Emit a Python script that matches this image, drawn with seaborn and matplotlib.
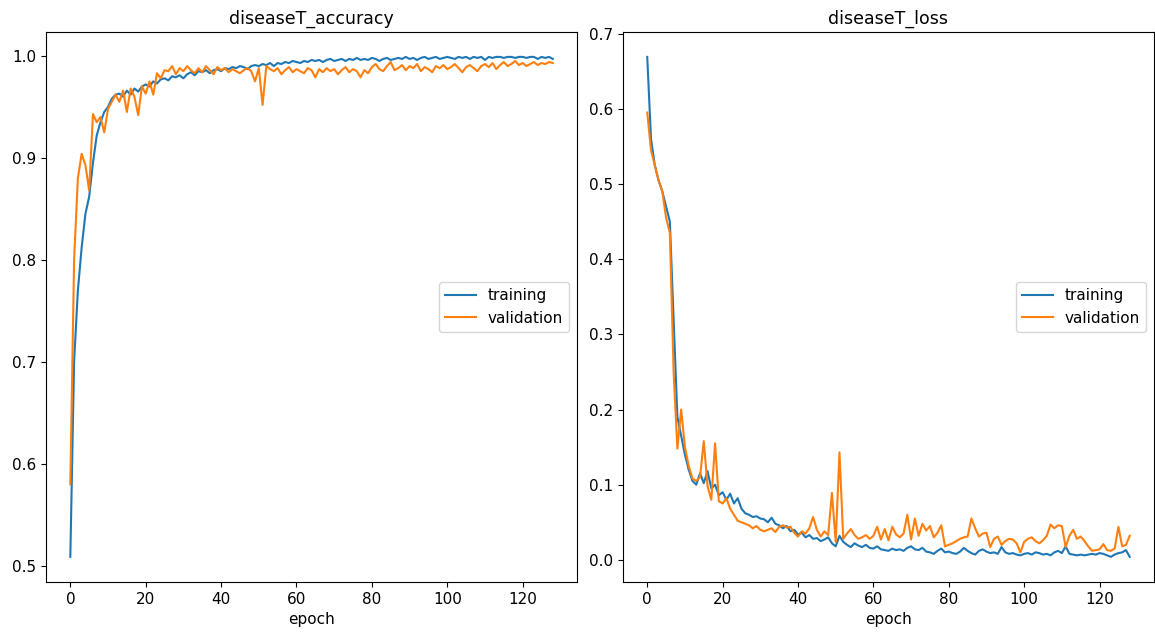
import pandas as pd
import matplotlib
matplotlib.use('Agg')
import matplotlib.pyplot as plt
import seaborn as sns

epochs = list(range(129))

train_acc = [0.509, 0.700, 0.770, 0.812, 0.845, 0.862, 0.895, 0.922, 0.935, 0.945,
             0.950, 0.958, 0.962, 0.963, 0.960, 0.966, 0.962, 0.968, 0.965, 0.970,
             0.972, 0.970, 0.975, 0.973, 0.977, 0.978, 0.976, 0.980, 0.979, 0.981,
             0.978, 0.982, 0.984, 0.981, 0.985, 0.984, 0.986, 0.983, 0.986, 0.987,
             0.985, 0.988, 0.987, 0.989, 0.988, 0.990, 0.989, 0.987, 0.990, 0.991,
             0.990, 0.992, 0.991, 0.993, 0.990, 0.993, 0.992, 0.994, 0.993, 0.995,
             0.994, 0.993, 0.995, 0.994, 0.996, 0.995, 0.996, 0.994, 0.996, 0.997,
             0.995, 0.996, 0.997, 0.995, 0.997, 0.996, 0.998, 0.996, 0.997, 0.996,
             0.998, 0.997, 0.995, 0.997, 0.998, 0.996, 0.997, 0.998, 0.997, 0.999,
             0.997, 0.998, 0.996, 0.998, 0.999, 0.997, 0.998, 0.999, 0.997, 0.998,
             0.999, 0.998, 0.997, 0.999, 0.998, 0.999, 0.997, 0.999, 0.998, 0.999,
             0.996, 0.999, 0.998, 0.999, 0.999, 0.998, 0.999, 0.999, 0.998, 0.999,
             0.999, 0.998, 0.999, 0.999, 0.997, 0.999, 0.998, 0.999, 0.997]

val_acc = [0.580, 0.800, 0.880, 0.904, 0.893, 0.868, 0.943, 0.935, 0.940, 0.925,
           0.948, 0.955, 0.962, 0.955, 0.966, 0.945, 0.968, 0.960, 0.942, 0.970,
           0.963, 0.975, 0.962, 0.983, 0.978, 0.986, 0.985, 0.990, 0.982, 0.988,
           0.985, 0.990, 0.986, 0.983, 0.988, 0.984, 0.990, 0.986, 0.982, 0.989,
           0.986, 0.988, 0.984, 0.987, 0.985, 0.983, 0.986, 0.988, 0.985, 0.975,
           0.988, 0.952, 0.990, 0.987, 0.985, 0.988, 0.982, 0.986, 0.989, 0.984,
           0.987, 0.985, 0.983, 0.988, 0.986, 0.979, 0.987, 0.984, 0.988, 0.985,
           0.987, 0.982, 0.986, 0.989, 0.984, 0.987, 0.985, 0.979, 0.986, 0.983,
           0.989, 0.992, 0.987, 0.985, 0.990, 0.994, 0.986, 0.988, 0.991, 0.986,
           0.990, 0.988, 0.992, 0.985, 0.989, 0.987, 0.984, 0.990, 0.988, 0.991,
           0.987, 0.989, 0.992, 0.988, 0.984, 0.989, 0.991, 0.988, 0.985, 0.990,
           0.992, 0.989, 0.993, 0.987, 0.991, 0.994, 0.990, 0.992, 0.995, 0.991,
           0.993, 0.990, 0.992, 0.994, 0.991, 0.993, 0.992, 0.994, 0.993]

train_loss = [0.669, 0.560, 0.525, 0.505, 0.490, 0.470, 0.450, 0.320, 0.190, 0.165,
              0.140, 0.120, 0.105, 0.100, 0.115, 0.102, 0.118, 0.095, 0.100, 0.086,
              0.090, 0.080, 0.088, 0.075, 0.082, 0.068, 0.062, 0.060, 0.057, 0.058,
              0.055, 0.054, 0.050, 0.056, 0.048, 0.046, 0.042, 0.045, 0.038, 0.040,
              0.034, 0.036, 0.030, 0.033, 0.028, 0.029, 0.025, 0.027, 0.030, 0.022,
              0.018, 0.032, 0.024, 0.020, 0.017, 0.022, 0.019, 0.017, 0.020, 0.016,
              0.015, 0.018, 0.014, 0.013, 0.012, 0.015, 0.013, 0.014, 0.012, 0.016,
              0.018, 0.014, 0.013, 0.016, 0.011, 0.010, 0.008, 0.012, 0.015, 0.010,
              0.011, 0.009, 0.008, 0.011, 0.016, 0.012, 0.009, 0.007, 0.012, 0.014,
              0.011, 0.009, 0.010, 0.008, 0.017, 0.010, 0.008, 0.009, 0.007, 0.006,
              0.008, 0.009, 0.007, 0.010, 0.009, 0.007, 0.008, 0.006, 0.010, 0.012,
              0.009, 0.018, 0.008, 0.007, 0.006, 0.007, 0.006, 0.007, 0.008, 0.007,
              0.009, 0.008, 0.006, 0.004, 0.007, 0.009, 0.010, 0.013, 0.004]

val_loss = [0.595, 0.545, 0.525, 0.505, 0.490, 0.455, 0.435, 0.250, 0.148, 0.200,
            0.150, 0.125, 0.108, 0.105, 0.110, 0.158, 0.098, 0.080, 0.155, 0.078,
            0.075, 0.082, 0.068, 0.060, 0.052, 0.050, 0.048, 0.046, 0.042, 0.045,
            0.040, 0.038, 0.040, 0.042, 0.037, 0.044, 0.046, 0.043, 0.044, 0.036,
            0.031, 0.038, 0.035, 0.042, 0.057, 0.040, 0.031, 0.038, 0.033, 0.089,
            0.024, 0.143, 0.028, 0.035, 0.041, 0.033, 0.028, 0.030, 0.033, 0.028,
            0.032, 0.044, 0.027, 0.041, 0.026, 0.044, 0.034, 0.030, 0.035, 0.060,
            0.027, 0.055, 0.032, 0.048, 0.039, 0.045, 0.030, 0.036, 0.046, 0.018,
            0.020, 0.022, 0.025, 0.028, 0.030, 0.031, 0.055, 0.042, 0.031, 0.035,
            0.036, 0.017, 0.028, 0.031, 0.020, 0.025, 0.028, 0.027, 0.022, 0.010,
            0.024, 0.028, 0.030, 0.025, 0.022, 0.026, 0.032, 0.047, 0.042, 0.046,
            0.045, 0.017, 0.032, 0.040, 0.028, 0.031, 0.025, 0.018, 0.012, 0.013,
            0.014, 0.021, 0.013, 0.012, 0.015, 0.044, 0.018, 0.020, 0.032]

panels = [('diseaseT_accuracy', train_acc, val_acc),
          ('diseaseT_loss', train_loss, val_loss)]

fig, axes = plt.subplots(1, 2, figsize=(11.55, 6.38), dpi=100)
fig.subplots_adjust(left=0.040, right=0.999, top=0.950, bottom=0.088, wspace=0.087)

for ax, (title, tr, va) in zip(axes, panels):
    df = pd.DataFrame({'epoch': epochs * 2,
                       'value': tr + va,
                       'series': ['training'] * len(tr) + ['validation'] * len(va)})
    sns.lineplot(data=df, x='epoch', y='value', hue='series',
                 palette=['#1f77b4', '#ff7f0e'], linewidth=1.5, ax=ax)
    handles, labels = ax.get_legend_handles_labels()
    ax.legend(handles, labels, loc='center right', fontsize=11)
    ax.set_title(title, fontsize=12.5)
    ax.set_xlabel('epoch', fontsize=11)
    ax.set_ylabel('')
    ax.set_xticks([0, 20, 40, 60, 80, 100, 120])
    ax.tick_params(labelsize=11)

fig.savefig('out.png', dpi=100)
